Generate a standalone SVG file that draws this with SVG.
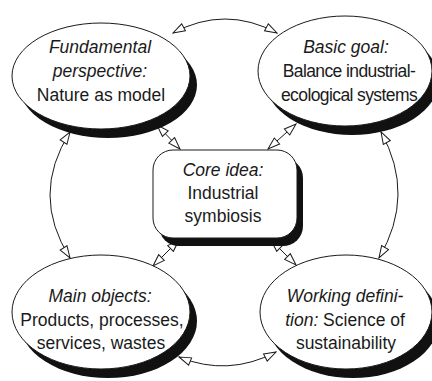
<svg xmlns="http://www.w3.org/2000/svg" width="432" height="381" viewBox="0 0 432 381">
  <defs>
    <marker id="tri" viewBox="0 0 14 10" refX="13" refY="5" markerWidth="14" markerHeight="10" markerUnits="userSpaceOnUse" orient="auto-start-reverse">
      <path d="M1,1 L13,5 L1,9 Z" fill="#fff" stroke="#1a1a1a" stroke-width="1"/>
    </marker>
    <style>
      .shadow { fill: #111; }
      .shape { fill: #fff; stroke: #1a1a1a; stroke-width: 1; }
      .conn { fill: none; stroke: #1a1a1a; stroke-width: 1; marker-start: url(#tri); marker-end: url(#tri); }
      text { font-family: "Liberation Sans", Arial, sans-serif; font-size: 17.5px; fill: #1a1a1a; text-anchor: middle; }
      .it { font-style: italic; }
      .tight { letter-spacing: -0.6px; }
    </style>
  </defs>

  <rect width="432" height="381" fill="#fff"/>

  <g id="connectors">
    <!-- outer ring arcs -->
    <path class="conn" d="M173,33 Q225,5 277,33"/>
    <path class="conn" d="M70,132 Q30,195 70,258"/>
    <path class="conn" d="M381,132 Q416,195 379,258"/>
    <path class="conn" d="M179,357 Q228,377 276,352"/>
    <!-- spokes to the centre -->
    <path class="conn" d="M157,125 L180,149"/>
    <path class="conn" d="M296,124 L268,149"/>
    <path class="conn" d="M179,240 L153,266"/>
    <path class="conn" d="M271,240 L296,265"/>
  </g>

  <g id="perspective">
    <ellipse class="shadow" cx="108" cy="85" rx="89" ry="53"/>
    <ellipse class="shape" cx="101" cy="76" rx="89" ry="53"/>
    <text x="100" y="53" class="it">Fundamental</text>
    <text x="100" y="77" class="it">perspective:</text>
    <text x="101" y="101">Nature as model</text>
  </g>

  <g id="goal">
    <ellipse class="shadow" cx="352" cy="80" rx="87" ry="55"/>
    <ellipse class="shape" cx="345" cy="71" rx="87" ry="55"/>
    <text x="346" y="53" class="it">Basic goal:</text>
    <text x="349" y="77" class="tight">Balance industrial-</text>
    <text x="349" y="101" class="tight">ecological systems</text>
  </g>

  <g id="core">
    <rect class="shadow" x="159" y="158" width="144" height="88" rx="20"/>
    <rect class="shape" x="153" y="150" width="144" height="88" rx="20"/>
    <text x="223" y="176" class="it">Core idea:</text>
    <text x="223" y="199">Industrial</text>
    <text x="223" y="222">symbiosis</text>
  </g>

  <g id="objects">
    <ellipse class="shadow" cx="108" cy="321" rx="89" ry="57"/>
    <ellipse class="shape" cx="101" cy="312" rx="89" ry="57"/>
    <text x="100" y="302" class="it">Main objects:</text>
    <text x="102" y="326">Products, processes,</text>
    <text x="101" y="349">services, wastes</text>
  </g>

  <g id="definition">
    <ellipse class="shadow" cx="353" cy="321" rx="86" ry="57"/>
    <ellipse class="shape" cx="346" cy="312" rx="86" ry="57"/>
    <text x="345" y="302" class="it">Working defini-</text>
    <text x="345" y="326"><tspan class="it">tion:</tspan> Science of</text>
    <text x="346" y="349">sustainability</text>
  </g>
</svg>
